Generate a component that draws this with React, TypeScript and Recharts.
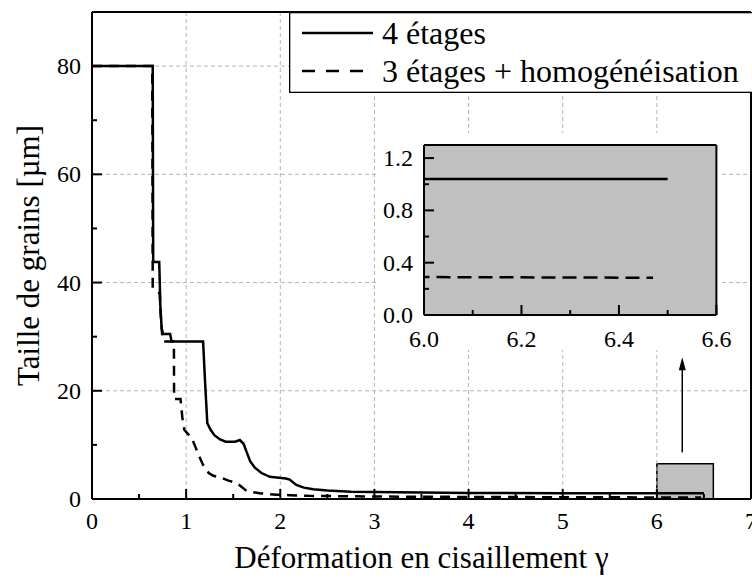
import { LineChart, Line, XAxis, YAxis, CartesianGrid, ReferenceArea, ReferenceLine, Legend, Label } from 'recharts'

const FONT = "'Liberation Serif', 'DejaVu Serif', serif"

const SERIES = ['4 étages', '3 étages + homogénéisation']

// 4 étages
const gamma4 = [0, 0.645, 0.65, 0.714, 0.72, 0.725, 0.74, 0.755, 0.83, 0.845, 1.18, 1.2, 1.225, 1.26, 1.3, 1.36, 1.42, 1.52, 1.57, 1.61, 1.64, 1.68, 1.73, 1.8, 1.89, 2.06, 2.1, 2.17, 2.25, 2.35, 2.5, 2.75, 3.0, 3.5, 4, 5, 6, 6.5]
const size4 = [80, 80, 43.8, 43.8, 40, 36, 31.5, 30.5, 30.5, 29.1, 29.1, 22, 14, 12.8, 11.8, 11, 10.6, 10.6, 10.9, 10.2, 8.8, 7, 5.8, 4.8, 4.1, 3.8, 3.6, 2.6, 2.1, 1.8, 1.55, 1.35, 1.28, 1.18, 1.12, 1.07, 1.04, 1.04]

// 3 étages + homogénéisation
const gamma3 = [0, 0.64, 0.645, 0.72, 0.73, 0.745, 0.76, 0.87, 0.872, 0.94, 0.96, 0.98, 1.06, 1.09, 1.13, 1.18, 1.24, 1.29, 1.39, 1.45, 1.54, 1.6, 1.64, 1.78, 1.96, 2.1, 2.3, 3, 4, 5, 6, 6.47]
const size3 = [80, 80, 39, 38, 34, 30.5, 29.1, 29.1, 18.5, 18.5, 15, 12.8, 11.2, 10, 8.2, 6.3, 4.8, 4.3, 3.8, 3.4, 2.9, 2.1, 1.5, 1.05, 0.8, 0.7, 0.58, 0.45, 0.38, 0.33, 0.29, 0.285]

const X_TICKS = [0, 0.5, 1, 1.5, 2, 2.5, 3, 3.5, 4, 4.5, 5, 5.5, 6, 6.5, 7]
const X_LABELS = [0, 1, 2, 3, 4, 5, 6, 7]
const Y_TICKS = [0, 10, 20, 30, 40, 50, 60, 70, 80]
const Y_LABELS = [0, 20, 40, 60, 80]
const GRID_X = [1, 2, 3, 4, 5, 6]
const GRID_Y = [20, 40, 60, 80]

const ZOOM_BOX = { x1: 6, x2: 6.6, y1: 0, y2: 6.5 }
const ARROW = [{ x: 6.27, y: 8.6 }, { x: 6.27, y: 26.2 }]

const INSET_X_TICKS = [6.0, 6.1, 6.2, 6.3, 6.4, 6.5, 6.6]
const INSET_X_LABELS = [6.0, 6.2, 6.4, 6.6]
const INSET_Y_TICKS = [0, 0.2, 0.4, 0.6, 0.8, 1.0, 1.2]
const INSET_Y_LABELS = [0, 0.4, 0.8, 1.2]

const data4 = gamma4.map((g, i) => ({ g, d: size4[i] }))
const data3 = gamma3.map((g, i) => ({ g, d: size3[i] }))

const txt = { fontFamily: FONT, fontSize: 24, fill: '#000' }
const axisLine = { stroke: '#000', strokeWidth: 2 }
const GRID_COLOR = '#b4b4b4'

type Side = 'bottom' | 'top' | 'left' | 'right'

const makeTick = (side: Side, labels: number[], fmt?: (v: number) => string, gap = 30) => (props: any) => {
  const { x, y, payload } = props
  const v = payload.value
  const major = labels.some(l => Math.abs(l - v) < 1e-6)
  const len = major ? 10 : 5
  let x2 = x
  let y2 = y
  if (side === 'bottom') y2 = y - len
  if (side === 'top') y2 = y + len
  if (side === 'left') x2 = x + len
  if (side === 'right') x2 = x - len
  let label = null
  if (major && fmt && side === 'bottom') {
    label = <text x={x} y={y + gap} textAnchor="middle" {...txt}>{fmt(v)}</text>
  }
  if (major && fmt && side === 'left') {
    label = <text x={x - gap} y={y + 8} textAnchor="end" {...txt}>{fmt(v)}</text>
  }
  return (
    <g>
      <line x1={x} y1={y} x2={x2} y2={y2} stroke="#000" strokeWidth={2} />
      {label}
    </g>
  )
}

// grid at the major values only, placed with the axis scale
const gridX = (p: any) => {
  try {
    return GRID_X.map(v => p.xAxis.scale(v))
  } catch (e) {
    return []
  }
}
const gridY = (p: any) => {
  try {
    return GRID_Y.map(v => p.yAxis.scale(v))
  } catch (e) {
    return []
  }
}

const XTitle = (p: any) => {
  const { x, y, width } = p.viewBox
  return (
    <text x={x + width / 2} y={y + 69} textAnchor="middle" fontFamily={FONT} fontSize={31} fill="#000">
      Déformation en cisaillement γ
    </text>
  )
}

const YTitle = (p: any) => {
  const { x, y, height } = p.viewBox
  const cx = x + 28
  const cy = y + height / 2
  return (
    <text x={cx} y={cy} transform={`rotate(-90 ${cx} ${cy})`} textAnchor="middle" dominantBaseline="central" fontFamily={FONT} fontSize={31} fill="#000">
      Taille de grains [µm]
    </text>
  )
}

const ArrowShape = (p: any) => {
  const { x1, y1, x2, y2 } = p
  return (
    <g>
      <line x1={x1} y1={y1} x2={x2} y2={y2 + 10} stroke="#000" strokeWidth={1.5} />
      <polygon points={`${x2},${y2} ${x2 - 3.5},${y2 + 13} ${x2 + 3.5},${y2 + 13}`} fill="#000" />
    </g>
  )
}

const LegendBox = () => (
  <svg width={480} height={81} style={{ display: 'block' }}>
    <rect x={0.65} y={0.65} width={478} height={79.7} fill="#fff" stroke="#000" strokeWidth={1.3} />
    {SERIES.map((name, i) => (
      <g key={name}>
        <line x1={13} x2={84} y1={21 + 38 * i} y2={21 + 38 * i} stroke="#000" strokeWidth={2.5} strokeDasharray={i === 1 ? '13 11' : undefined} />
        <text x={93} y={32 + 38 * i} fontFamily={FONT} fontSize={32} fill="#000">{name}</text>
      </g>
    ))}
  </svg>
)

function Inset() {
  return (
    <LineChart width={380} height={220} margin={{ top: 9, right: 26.6, bottom: 0, left: 0 }}>
      <CartesianGrid horizontal={false} vertical={false} fill="#c0c0c0" />
      <XAxis xAxisId="top" orientation="top" type="number" domain={[6, 6.6]} ticks={INSET_X_TICKS} interval={0} height={1} tickSize={0} tickMargin={0} tickLine={false} axisLine={axisLine} tick={makeTick('top', INSET_X_LABELS)} />
      <YAxis yAxisId="right" orientation="right" type="number" domain={[0, 1.3]} ticks={INSET_Y_TICKS} interval={0} width={1} tickSize={0} tickMargin={0} tickLine={false} axisLine={axisLine} tick={makeTick('right', INSET_Y_LABELS)} />
      <XAxis dataKey="g" type="number" domain={[6, 6.6]} allowDataOverflow ticks={INSET_X_TICKS} interval={0} height={40} tickSize={0} tickMargin={0} tickLine={false} axisLine={axisLine} tick={makeTick('bottom', INSET_X_LABELS, v => v.toFixed(1), 32)} />
      <YAxis type="number" domain={[0, 1.3]} allowDataOverflow ticks={INSET_Y_TICKS} interval={0} width={60} tickSize={0} tickMargin={0} tickLine={false} axisLine={axisLine} tick={makeTick('left', INSET_Y_LABELS, v => v.toFixed(1), 11)} />
      <Line data={data4} dataKey="d" stroke="#000" strokeWidth={2.5} dot={false} activeDot={false} isAnimationActive={false} />
      <Line data={data3} dataKey="d" stroke="#000" strokeWidth={2.5} strokeDasharray="14 7" dot={false} activeDot={false} isAnimationActive={false} />
    </LineChart>
  )
}

export default function App() {
  return (
    <div style={{ position: 'absolute', left: 0, top: 0, width: 752, height: 585, overflow: 'hidden', background: '#fff' }}>
      <LineChart width={752} height={585} margin={{ top: 11, right: 0, bottom: 0, left: 0 }}>
        <CartesianGrid stroke={GRID_COLOR} strokeDasharray="4 3" verticalCoordinatesGenerator={gridX} horizontalCoordinatesGenerator={gridY} />
        {GRID_X.map(v => <ReferenceLine key={'gx' + v} x={v} stroke={GRID_COLOR} strokeWidth={1} strokeDasharray="4 3" ifOverflow="visible" />)}
        {GRID_Y.map(v => <ReferenceLine key={'gy' + v} y={v} stroke={GRID_COLOR} strokeWidth={1} strokeDasharray="4 3" ifOverflow="visible" />)}
        <XAxis xAxisId="top" orientation="top" type="number" domain={[0, 7]} ticks={X_TICKS} interval={0} height={1} tickSize={0} tickMargin={0} tickLine={false} axisLine={axisLine} tick={makeTick('top', X_LABELS)} />
        <YAxis yAxisId="right" orientation="right" type="number" domain={[0, 90]} ticks={Y_TICKS} interval={0} width={1} tickSize={0} tickMargin={0} tickLine={false} axisLine={axisLine} tick={makeTick('right', Y_LABELS)} />
        <XAxis dataKey="g" type="number" domain={[0, 7]} allowDataOverflow ticks={X_TICKS} interval={0} height={86} tickSize={0} tickMargin={0} tickLine={false} axisLine={axisLine} tick={makeTick('bottom', X_LABELS, v => String(v), 30)} label={<Label content={XTitle} />} />
        <YAxis type="number" domain={[0, 90]} allowDataOverflow ticks={Y_TICKS} interval={0} width={92} tickSize={0} tickMargin={0} tickLine={false} axisLine={axisLine} tick={makeTick('left', Y_LABELS, v => String(v), 11)} label={<Label content={YTitle} />} />
        <ReferenceArea x1={ZOOM_BOX.x1} x2={ZOOM_BOX.x2} y1={ZOOM_BOX.y1} y2={ZOOM_BOX.y2} fill="#c0c0c0" fillOpacity={1} stroke="#000" strokeWidth={1.5} />
        <Line data={data4} dataKey="d" name={SERIES[0]} stroke="#000" strokeWidth={2.5} dot={false} activeDot={false} isAnimationActive={false} />
        <Line data={data3} dataKey="d" name={SERIES[1]} stroke="#000" strokeWidth={2.5} strokeDasharray="10 7" dot={false} activeDot={false} isAnimationActive={false} />
        <ReferenceLine segment={ARROW} shape={ArrowShape} ifOverflow="visible" />
        <Legend layout="vertical" align="center" verticalAlign="middle" content={LegendBox} wrapperStyle={{ left: 288.7, top: 12, width: 480, height: 81 }} />
      </LineChart>
      <div style={{ position: 'absolute', left: 376, top: 133, width: 346, height: 217, background: '#fff' }} />
      <div style={{ position: 'absolute', left: 364.3, top: 135 }}>
        <Inset />
      </div>
    </div>
  )
}
